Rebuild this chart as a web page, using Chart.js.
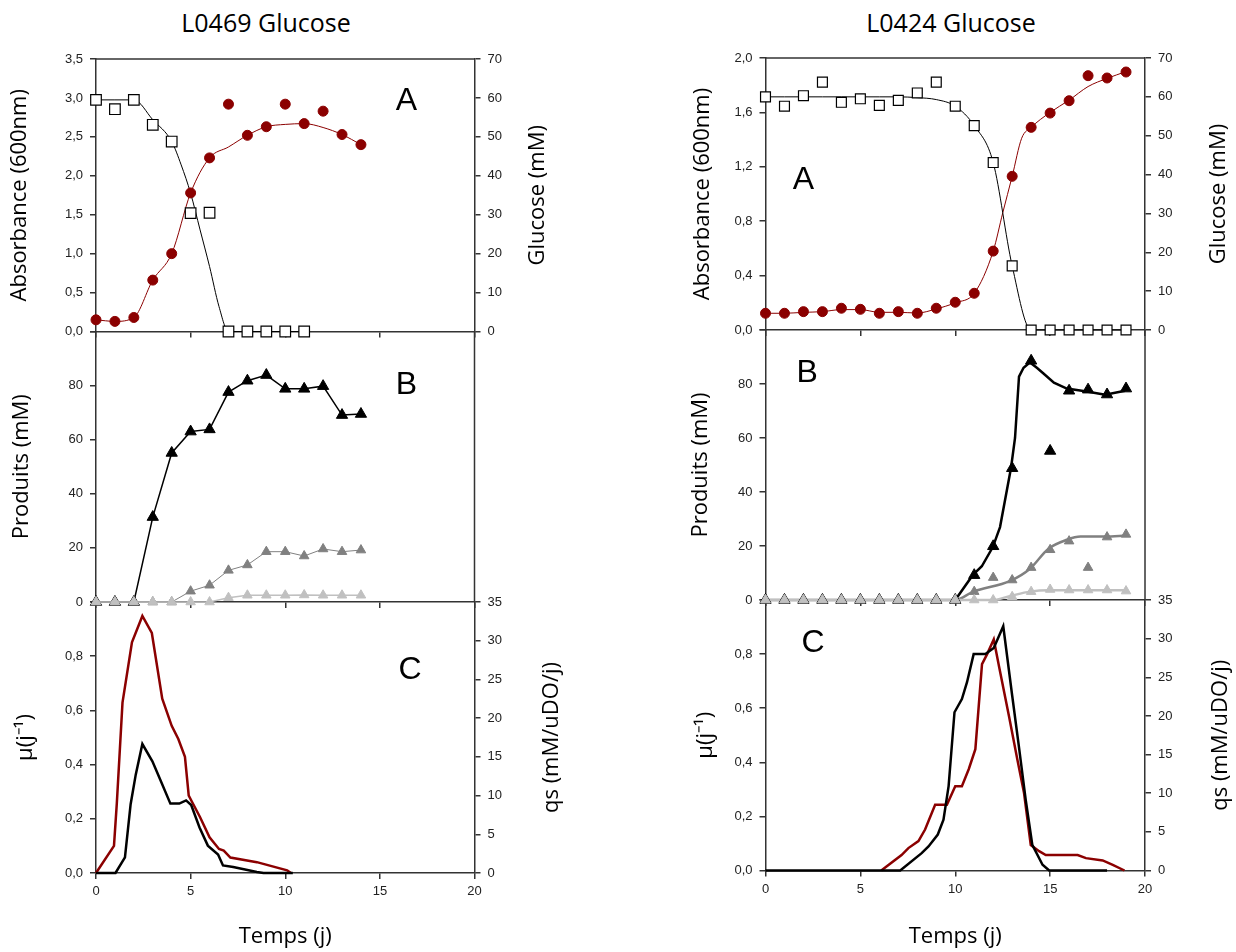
<!DOCTYPE html>
<html>
<head>
<meta charset="utf-8">
<script src="https://cdn.jsdelivr.net/npm/chart.js@4.4.0/dist/chart.umd.min.js"></script>
<style>
body { margin:0; background:#fff; width:1236px; height:952px; position:relative; overflow:hidden; font-family:"Open Sans", sans-serif; }
canvas { position:absolute; top:0; }
.ttl { position:absolute; top:7px; font-size:25px; line-height:30px; color:#000; transform:translateX(-50%); white-space:nowrap; }
</style>
</head>
<body>
<div class="ttl" style="left:266px">L0469 Glucose</div>
<div class="ttl" style="left:951px">L0424 Glucose</div>
<canvas id="lC" width="618" height="952" style="left:0"></canvas>
<canvas id="lB" width="618" height="952" style="left:0"></canvas>
<canvas id="lA" width="618" height="952" style="left:0"></canvas>
<canvas id="rC" width="618" height="952" style="left:618px"></canvas>
<canvas id="rB" width="618" height="952" style="left:618px"></canvas>
<canvas id="rA" width="618" height="952" style="left:618px"></canvas>
<script>
// ---- L0469 (colonne gauche) ----
const daysL = [0,1,2,3,4,5,6,7,8,9,10,11,12,13,14];
const absL    = [0.15,0.13,0.18,0.66,1.00,1.78,2.23,2.92,2.52,2.63,2.92,2.67,2.83,2.53,2.40];
const absFitL = [0.15,0.13,0.18,0.66,1.00,1.78,2.23,2.37,2.52,2.63,2.66,2.67,2.62,2.53,2.40];
const glcDaysL = [0,1,2,3,4,5,6,7,8,9,10,11];
const glcL = [59.5,57.1,59.5,53.1,48.8,30.4,30.5,0,0,0,0,0];
const glcFitDaysL = [0,1,2,3,4,4.5,5,5.5,6,6.5,7,8,9,10,11];
const glcFitL = [59.5,59.5,59.5,54.4,48.8,42.8,35.5,26.1,16.7,6.4,0,0,0,0,0];

const prodMainL  = [0,0,0,31.4,55.1,63.0,63.8,77.6,81.8,83.9,78.8,78.8,79.8,69.1,69.5];
const prodSecL   = [0,0,0,0,0,4.0,6.2,11.7,13.7,18.6,18.6,17.0,19.6,18.6,19.2];
const prodMinorL = [0,0,0,0,0,0,0,1.6,2.5,2.5,2.5,2.6,2.5,2.5,2.5];

const muDaysL = [0,1.03,1.53,1.83,2.1,2.45,2.98,3.43,3.93,4.4,4.76,5.03,5.47,5.91,6.45,6.71,7.25,8.5,8.85,10.4];
const muL = [0,0,0.058,0.254,0.363,0.476,0.412,0.339,0.256,0.256,0.268,0.251,0.168,0.101,0.068,0.028,0.022,0.004,0,0];
const qsDaysL = [0,0.95,1.1,1.4,1.9,2.45,2.95,3.5,4.0,4.35,4.7,4.9,5.05,5.5,6.0,6.5,6.75,7.1,8.5,10.1,10.3];
const qsL = [0,3.5,9,22,29.8,33.2,31,22.5,19,17.3,15,10,9.3,7.2,4.6,3.1,2.9,2.0,1.4,0.35,0];

// ---- L0424 (colonne droite) ----
const daysR = [0,1,2,3,4,5,6,7,8,9,10,11,12,13,14,15,16,17,18,19];
const absR = [0.123,0.123,0.135,0.135,0.16,0.152,0.123,0.135,0.123,0.16,0.204,0.27,0.58,1.13,1.49,1.595,1.686,1.87,1.853,1.897];
const absFitDaysR = [0,1,2,3,4,5,6,7,8,9,10,11,12,12.5,13,13.5,14,15,16,17,18,19];
const absFitR = [0.123,0.123,0.13,0.135,0.15,0.15,0.13,0.13,0.125,0.155,0.2,0.27,0.58,0.86,1.13,1.41,1.49,1.6,1.69,1.79,1.85,1.9];
const glcR    = [60.0,57.6,60.3,63.8,58.6,59.5,57.8,59.1,61.0,63.8,57.6,52.6,43.1,16.5,0,0,0,0,0,0];
const glcFitR = [60,60,60,60,60,60,60,60,59.8,59.3,57.6,52.6,43.1,16.5,0,0,0,0,0,0];

const prodMainR  = [0,0,0,0,0,0,0,0,0,0,0,9.2,19.9,48.8,88.6,55.2,77.5,77.9,76.1,78.3];
const prodSecR   = [0,0,0,0,0,0,0,0,0,0,0,3.1,8.3,7.4,12.0,18.6,21.8,12.0,23.3,24.3];
const prodMinorR = [0,0,0,0,0,0,0,0,0,0,0,0,0,1.2,3.1,3.9,3.7,3.7,3.7,3.3];
const mainFitDaysR = [10,10.92,11.4,11.98,12.36,12.94,13.15,13.36,13.6,13.94,14.3,14.65,15.2,15.88,16.93,17.9,18.95];
const mainFitR = [0,9.2,12.5,19.6,27,49,60,82.7,86,88,86,83.9,80.5,78.3,77.2,76,77.5];
const secFitDaysR = [0,10,10.95,12.9,13.94,14.91,15.88,16.6,17.9,19];
const secFitR = [0,0,3.1,7.1,11.6,19,22.3,23.5,23.5,23.9];
const minorFitDaysR = [0,12,12.9,13.94,14.91,19];
const minorFitR = [0,0,1.5,3.1,3.6,3.6];

const muDaysR = [0,7.1,8.23,8.59,9.08,9.38,9.65,9.96,10.35,10.62,10.97,11.59,12.03,12.53,13.0,13.36,13.71,14.06,14.6,14.95,18];
const muR = [0,0,0.064,0.089,0.133,0.188,0.312,0.585,0.634,0.696,0.80,0.80,0.823,0.903,0.647,0.455,0.263,0.095,0.021,0,0];
const qsDaysR = [6.1,7.17,7.53,8.06,8.41,8.94,9.56,10.0,10.35,10.71,11.06,11.41,11.68,12.03,12.3,12.83,13.27,13.62,13.98,14.42,14.77,16.45,16.89,17.77,18.3,18.92];
const qsR = [0,2.0,2.9,3.8,5.3,8.5,8.5,10.9,10.9,13.1,15.7,26.7,28.0,29.9,26.5,20.0,14.4,10.1,3.3,2.5,2.0,2.0,1.6,1.3,0.74,0];

// ---- styles ----
const AX = '#333';
const TXT = '#222';
const RED = '#8b0000';
const tickFont = {family: 'Liberation Sans, Arial, sans-serif', size: 13};
const titleFont = {family: 'Open Sans, sans-serif', size: 22};
const HALF = titleFont.size * 1.2 / 2;
const W = 618, H = 952;
const TEMPS_Y = 937;

const pts = (xs, ys) => xs.map((x, i) => ({x: x, y: ys[i]}));
const comma = v => v.toFixed(1).replace('.', ',');
const plain = v => String(v);

function marks(data, style, r, color, opt) {
  return Object.assign({
    data: data, showLine: false, pointStyle: style, pointRadius: r,
    pointBackgroundColor: color, pointBorderColor: color, pointBorderWidth: 1,
    borderColor: color, borderWidth: 1, tension: 0, clip: false
  }, opt || {});
}
function curve(data, color, w, smooth, opt) {
  return Object.assign({
    data: data, borderColor: color, borderWidth: w, pointRadius: 0,
    tension: 0, cubicInterpolationMode: smooth ? 'monotone' : 'default', clip: false
  }, opt || {});
}

const framePlugin = {
  id: 'frame',
  beforeDatasetsDraw(chart, args, opts) {
    const a = chart.chartArea, ctx = chart.ctx;
    ctx.save();
    ctx.strokeStyle = AX; ctx.lineWidth = 1.5;
    ctx.beginPath();
    if (opts.top) { ctx.moveTo(a.left, a.top); ctx.lineTo(a.right, a.top); }
    if (opts.right) { ctx.moveTo(a.right, a.top); ctx.lineTo(a.right, a.bottom); }
    ctx.stroke();
    ctx.restore();
  }
};
// lettre du panneau + titre de l'axe de droite (lu de bas en haut comme a gauche)
const textPlugin = {
  id: 'texts',
  afterDatasetsDraw(chart, args, opts) {
    const ctx = chart.ctx, a = chart.chartArea;
    ctx.save();
    ctx.fillStyle = '#000';
    ctx.textAlign = 'center';
    ctx.textBaseline = 'middle';
    if (opts.letter) {
      ctx.font = '32px Liberation Sans, Arial, sans-serif';
      ctx.fillText(opts.letter.text, chart.scales.x.getPixelForValue(opts.letter.x), chart.scales.y.getPixelForValue(opts.letter.y));
    }
    if (opts.right) {
      ctx.font = titleFont.size + 'px ' + titleFont.family;
      ctx.translate(opts.right.tx, (a.top + a.bottom) / 2);
      ctx.rotate(-Math.PI / 2);
      ctx.fillText(opts.right.title, 0, 0);
    }
    ctx.restore();
  }
};

function yScale(pos, ax, width, titlePad) {
  return {
    position: pos, min: ax.min, max: ax.max,
    ticks: {
      stepSize: ax.step, font: tickFont, color: TXT, padding: 7,
      callback: v => (ax.hideTop && Math.abs(v - ax.max) < 1e-9) ? '' : ax.fmt(v)
    },
    grid: {drawOnChartArea: false, tickLength: 6, color: AX, lineWidth: 1.5},
    border: {color: AX, width: 1.5},
    title: pos === 'left'
      ? {display: true, text: ax.title, font: titleFont, color: '#000', padding: {top: titlePad, bottom: 0}}
      : {display: false},
    afterFit: s => { s.width = width; }
  };
}

function panel(id, area, o) {
  const scales = {};
  const xh = o.xTitle ? H - area.bottom : 0;
  scales.x = {
    type: 'linear', min: 0, max: 20,
    ticks: {stepSize: 5, display: !!o.xTitle, font: tickFont, color: TXT, padding: 5},
    grid: {drawOnChartArea: false, tickLength: 6, color: AX, lineWidth: 1.5},
    border: {color: AX, width: 1.5},
    title: o.xTitle
      ? {display: true, text: o.xTitle, font: titleFont, color: '#000', padding: {top: 0, bottom: H - TEMPS_Y - HALF}}
      : {display: false},
    afterFit: s => { s.height = xh; }
  };
  scales.y = yScale('left', o.left, area.left, o.left.tx - HALF);
  let padRight = W - area.right;
  if (o.right) {
    const rw = W - area.right;
    scales.y2 = yScale('right', o.right, rw, 0);
    padRight = 0;
  }
  return new Chart(document.getElementById(id), {
    type: 'line',
    data: {datasets: o.datasets},
    options: {
      responsive: false, animation: false, devicePixelRatio: 1,
      layout: {autoPadding: false, padding: {left: 0, top: area.top, right: padRight, bottom: o.xTitle ? 0 : H - area.bottom}},
      scales: scales,
      plugins: {
        legend: {display: false}, tooltip: {enabled: false},
        frame: {top: !!o.top, right: !o.right},
        texts: {letter: o.letter, right: o.right}
      }
    },
    plugins: [framePlugin, textPlugin]
  });
}

// zones de tracé (coordonnées canvas)
const LX = {left: 96, right: 474.5};
const RX = {left: 147.5, right: 527};

// ---- L0469 ----
panel('lA', {left: LX.left, right: LX.right, top: 59, bottom: 331.5}, {
  top: true,
  left: {min: 0, max: 3.5, step: 0.5, fmt: comma, title: 'Absorbance (600nm)', tx: 20},
  right: {min: 0, max: 70, step: 10, fmt: plain, title: 'Glucose (mM)', tx: 538},
  letter: {text: 'A', x: 16.4, y: 2.96},
  datasets: [
    marks(pts(glcDaysL, glcL), 'rect', 7.5, '#fff', {pointBorderColor: '#000', pointBorderWidth: 1.2, yAxisID: 'y2'}),
    marks(pts(daysL, absL), 'circle', 5, RED),
    curve(pts(glcFitDaysL, glcFitL), '#000', 1, true, {yAxisID: 'y2'}),
    curve(pts(daysL, absFitL), RED, 1, true)
  ]
});
panel('lB', {left: LX.left, right: LX.right, top: 331.5, bottom: 602}, {
  left: {min: 0, max: 100, step: 20, fmt: plain, hideTop: true, title: 'Produits (mM)', tx: 21.7},
  letter: {text: 'B', x: 16.4, y: 80},
  datasets: [
    marks(pts(daysL, prodMinorL), 'triangle', 5.5, '#c0c0c0', {showLine: true, borderWidth: 1.5}),
    marks(pts(daysL, prodSecL), 'triangle', 5.5, '#808080', {showLine: true, borderWidth: 1}),
    marks(pts(daysL, prodMainL), 'triangle', 6.5, '#000', {showLine: true, borderWidth: 1.5})
  ]
});
panel('lC', {left: LX.left, right: LX.right, top: 602, bottom: 873}, {
  xTitle: 'Temps (j)',
  left: {min: 0, max: 1.0, step: 0.2, fmt: comma, hideTop: true, title: 'µ(j⁻¹)', tx: 26},
  right: {min: 0, max: 35, step: 5, fmt: plain, title: 'qs (mM/uDO/j)', tx: 552},
  letter: {text: 'C', x: 16.6, y: 0.75},
  datasets: [
    curve(pts(muDaysL, muL), '#000', 2.5, false),
    curve(pts(qsDaysL, qsL), RED, 2.5, false, {yAxisID: 'y2'})
  ]
});

// ---- L0424 ----
panel('rA', {left: RX.left, right: RX.right, top: 58, bottom: 330}, {
  top: true,
  left: {min: 0, max: 2.0, step: 0.4, fmt: comma, title: 'Absorbance (600nm)', tx: 85},
  right: {min: 0, max: 70, step: 10, fmt: plain, title: 'Glucose (mM)', tx: 601},
  letter: {text: 'A', x: 2.0, y: 1.1},
  datasets: [
    marks(pts(daysR, glcR), 'rect', 7, '#fff', {pointBorderColor: '#000', pointBorderWidth: 1.2, yAxisID: 'y2'}),
    marks(pts(daysR, absR), 'circle', 5, RED),
    curve(pts(daysR, glcFitR), '#000', 1, true, {yAxisID: 'y2'}),
    curve(pts(absFitDaysR, absFitR), RED, 1, true)
  ]
});
panel('rB', {left: RX.left, right: RX.right, top: 330, bottom: 600}, {
  left: {min: 0, max: 100, step: 20, fmt: plain, hideTop: true, title: 'Produits (mM)', tx: 83},
  letter: {text: 'B', x: 2.2, y: 84},
  datasets: [
    marks(pts(daysR, prodMinorR), 'triangle', 5.5, '#c0c0c0'),
    marks(pts(daysR, prodSecR), 'triangle', 5.5, '#808080'),
    marks(pts(daysR, prodMainR), 'triangle', 6.5, '#000'),
    curve(pts(minorFitDaysR, minorFitR), '#c0c0c0', 2.5, true),
    curve(pts(secFitDaysR, secFitR), '#808080', 2.5, true),
    curve(pts(mainFitDaysR, mainFitR), '#000', 2.5, false)
  ]
});
panel('rC', {left: RX.left, right: RX.right, top: 600, bottom: 870.5}, {
  xTitle: 'Temps (j)',
  left: {min: 0, max: 1.0, step: 0.2, fmt: comma, hideTop: true, title: 'µ(j⁻¹)', tx: 88},
  right: {min: 0, max: 35, step: 5, fmt: plain, title: 'qs (mM/uDO/j)', tx: 603},
  letter: {text: 'C', x: 2.5, y: 0.84},
  datasets: [
    curve(pts(muDaysR, muR), '#000', 2.5, false),
    curve(pts(qsDaysR, qsR), RED, 2.5, false, {yAxisID: 'y2'})
  ]
});
</script>
</body>
</html>
